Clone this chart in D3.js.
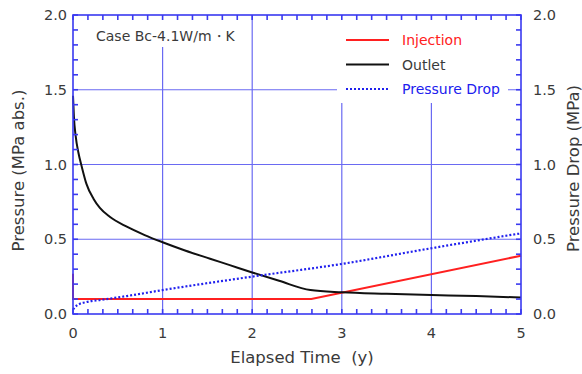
<!DOCTYPE html>
<html>
<head>
<meta charset="utf-8">
<script src="https://cdn.jsdelivr.net/npm/d3@7"></script>
<style>
  body { margin: 0; background: #fff; }
  svg { display: block; font-family: "DejaVu Sans", sans-serif; }
</style>
</head>
<body>
<svg class="chart"></svg>
<script>
// data
const OUTLET_T = [0, 0.01, 0.03, 0.06, 0.1, 0.15, 0.23, 0.3, 0.41, 0.6, 0.8, 1.0, 1.25, 1.53, 1.75, 2.0, 2.3, 2.65, 3.0, 3.5, 4.0, 4.5, 5.0];
const OUTLET_P = [1.46, 1.32, 1.19, 1.08, 0.98, 0.87, 0.77, 0.71, 0.65, 0.584, 0.528, 0.48, 0.425, 0.37, 0.327, 0.278, 0.222, 0.16, 0.145, 0.135, 0.127, 0.12, 0.11];
const INJ_T = [0, 0, 2.66, 5];
const INJ_P = [0.27, 0.1, 0.1, 0.39];
const DROP_T = [0, 0.05, 0.15, 0.31, 0.6, 1.0, 2.0, 3.0, 4.0, 5.0];
const DROP_P = [0.03, 0.06, 0.08, 0.094, 0.12, 0.16, 0.25, 0.335, 0.44, 0.54];
const X_TICKS = [0, 1, 2, 3, 4, 5];
const Y_TICKS = [0, 0.5, 1.0, 1.5, 2.0];
const LEGEND = [
  { name: "Injection", color: "#ff2020", dash: null, t: INJ_T, p: INJ_P, curve: d3.curveLinear },
  { name: "Outlet", color: "#111", dash: null, t: OUTLET_T, p: OUTLET_P, curve: d3.curveMonotoneX },
  { name: "Pressure Drop", color: "#2020ee", dash: "2,2", t: DROP_T, p: DROP_P, curve: d3.curveMonotoneX },
];

const W = 582, H = 374;
const M = { top: 15, right: 61, bottom: 60, left: 73 };
const AXIS_BLUE = "#3a3af0";
const GRID_BLUE = "#6a6af2";
const TEXT_COL = "#3a3a3a";

const svg = d3.select(".chart").attr("width", W).attr("height", H);

const x = d3.scaleLinear().domain([0, 5]).range([M.left, W - M.right]);
const y = d3.scaleLinear().domain([0, 2]).range([H - M.bottom, M.top]);

// grid lines
svg.append("g").selectAll("line").data(X_TICKS.slice(1, -1)).join("line")
  .attr("x1", d => x(d)).attr("x2", d => x(d))
  .attr("y1", y(0)).attr("y2", y(2))
  .attr("stroke", GRID_BLUE).attr("stroke-width", 1.2);
svg.append("g").selectAll("line").data(Y_TICKS.slice(1, -1)).join("line")
  .attr("x1", x(0)).attr("x2", x(5))
  .attr("y1", d => y(d)).attr("y2", d => y(d))
  .attr("stroke", GRID_BLUE).attr("stroke-width", 1.2);

// white boxes behind title and legend
svg.append("rect").attr("x", x(0) + 1).attr("y", y(2) + 1)
  .attr("width", 172).attr("height", 31).attr("fill", "#fff");
svg.append("rect").attr("x", 337).attr("y", y(2) + 1)
  .attr("width", 171).attr("height", 87).attr("fill", "#fff");

// series
LEGEND.forEach(s => {
  const line = d3.line().x(d => x(d[0])).y(d => y(d[1])).curve(s.curve);
  svg.append("path")
    .datum(s.t.map((t, i) => [t, s.p[i]]))
    .attr("d", line)
    .attr("fill", "none")
    .attr("stroke", s.color)
    .attr("stroke-width", s.dash ? 2.2 : 2)
    .attr("stroke-dasharray", s.dash);
});

// frame and ticks (all inward)
const minorX = d3.range(0, 31).map(i => i / 6);
const minorY = d3.range(0, 21).map(i => i / 10);
const frame = svg.append("g").attr("stroke", AXIS_BLUE).attr("stroke-width", 1.6);
frame.append("rect").attr("x", x(0)).attr("y", y(2))
  .attr("width", x(5) - x(0)).attr("height", y(0) - y(2)).attr("fill", "none");
frame.selectAll(".tb").data(minorX).join("line")
  .attr("x1", d => x(d)).attr("x2", d => x(d))
  .attr("y1", y(0)).attr("y2", y(0) - 5);
frame.selectAll(".tt").data(minorX).join("line")
  .attr("x1", d => x(d)).attr("x2", d => x(d))
  .attr("y1", y(2)).attr("y2", y(2) + 5);
frame.selectAll(".tl").data(minorY).join("line")
  .attr("x1", x(0)).attr("x2", x(0) + 5)
  .attr("y1", d => y(d)).attr("y2", d => y(d));
frame.selectAll(".tr").data(minorY).join("line")
  .attr("x1", x(5)).attr("x2", x(5) - 5)
  .attr("y1", d => y(d)).attr("y2", d => y(d));

// tick labels
const tl = svg.append("g").attr("fill", TEXT_COL).attr("font-size", 14.5);
tl.selectAll(".xl").data(X_TICKS).join("text")
  .attr("x", d => x(d)).attr("y", y(0) + 24)
  .attr("text-anchor", "middle").text(d => d);
tl.selectAll(".yl").data(Y_TICKS).join("text")
  .attr("x", x(0) - 6).attr("y", d => y(d) + 5)
  .attr("text-anchor", "end").text(d => d.toFixed(1));
tl.selectAll(".yr").data(Y_TICKS).join("text")
  .attr("x", x(5) + 12).attr("y", d => y(d) + 5)
  .attr("text-anchor", "start").text(d => d.toFixed(1));

// axis titles
svg.append("text").attr("x", (x(0) + x(5)) / 2 + 5).attr("y", 363)
  .attr("text-anchor", "middle").attr("font-size", 16.5).attr("fill", TEXT_COL)
  .style("white-space", "pre").text("Elapsed Time  (y)");
svg.append("text")
  .attr("transform", `translate(24, ${(y(0) + y(2)) / 2 + 6}) rotate(-90)`)
  .attr("text-anchor", "middle").attr("font-size", 16.5).attr("fill", TEXT_COL)
  .text("Pressure (MPa abs.)");
svg.append("text")
  .attr("transform", `translate(579, ${(y(0) + y(2)) / 2 + 4}) rotate(-90)`)
  .attr("text-anchor", "middle").attr("font-size", 16.5).attr("fill", TEXT_COL)
  .text("Pressure Drop (MPa)");

// case label
svg.append("text").attr("x", 96).attr("y", 41)
  .attr("font-size", 14).attr("fill", TEXT_COL)
  .text("Case Bc-4.1W/m・K");

// legend
const lg = svg.append("g");
LEGEND.forEach((s, i) => {
  const ly = 40 + i * 24.5;
  lg.append("line").attr("x1", 346).attr("x2", 389)
    .attr("y1", ly).attr("y2", ly)
    .attr("stroke", s.color).attr("stroke-width", 2)
    .attr("stroke-dasharray", s.dash);
  lg.append("text").attr("x", 402).attr("y", ly + 5)
    .attr("font-size", 14).attr("fill", s.color === "#111" ? TEXT_COL : s.color)
    .text(s.name);
});
</script>
</body>
</html>
